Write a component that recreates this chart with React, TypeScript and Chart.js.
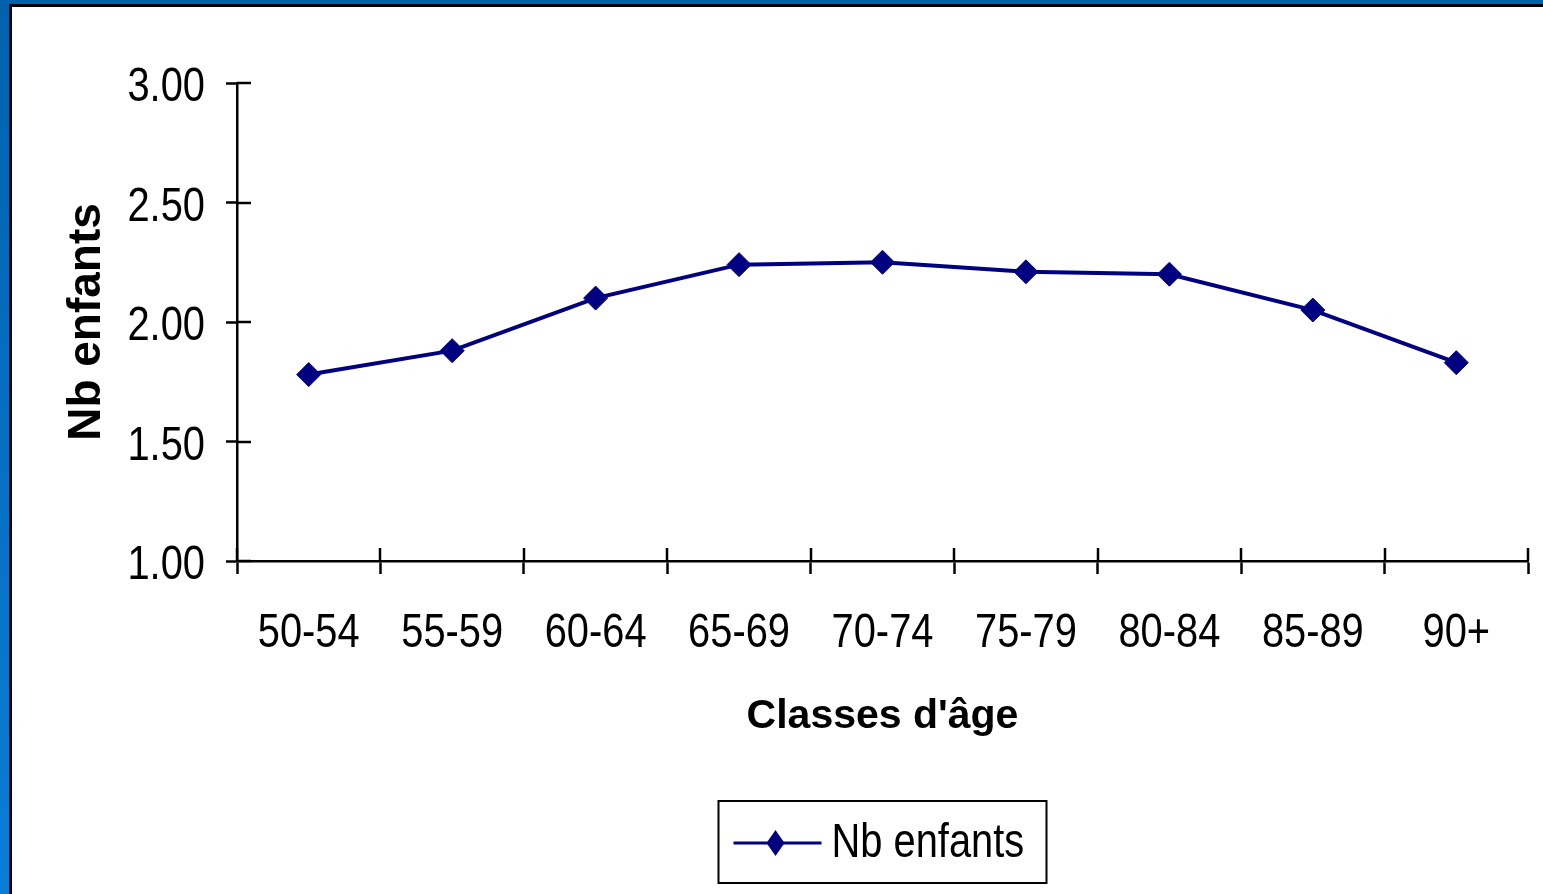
import React, { useEffect, useRef } from 'react';
import { Chart, registerables } from 'chart.js';

Chart.register(...registerables);

const categories = ['50-54', '55-59', '60-64', '65-69', '70-74', '75-79', '80-84', '85-89', '90+'];
const nbEnfants = [1.78, 1.88, 2.1, 2.24, 2.25, 2.21, 2.2, 2.05, 1.83];
const yMin = 1.0;
const yMax = 3.0;
const yStep = 0.5;
const seriesLabel = 'Nb enfants';
const xTitle = "Classes d'âge";
const yTitle = 'Nb enfants';

const NAVY = '#000080';
const SANS = "'Liberation Sans', Arial, sans-serif";
const NARROW_FONT = `48px ${SANS}`;
const NARROW_SCALE = 0.83;

function narrowText(ctx: any, text: string, x: number, y: number, align: CanvasTextAlign) {
  ctx.save();
  ctx.translate(x, y);
  ctx.scale(NARROW_SCALE, 1);
  ctx.font = NARROW_FONT;
  ctx.textAlign = align;
  ctx.textBaseline = 'alphabetic';
  ctx.fillStyle = '#000';
  ctx.fillText(text, 0, 0);
  ctx.restore();
}

const crossTicks = {
  id: 'crossTicks',
  beforeDatasetsDraw(chart: any) {
    const { ctx, chartArea, scales } = chart;
    const x = scales.x;
    const y = scales.y;
    ctx.save();
    ctx.strokeStyle = '#000';
    ctx.lineWidth = 2.5;
    y.ticks.forEach((_t: any, i: number) => {
      const py = Math.round(y.getPixelForTick(i));
      ctx.beginPath();
      ctx.moveTo(chartArea.left, py);
      ctx.lineTo(chartArea.left + 14, py);
      ctx.stroke();
    });
    for (let i = 0; i <= categories.length; i++) {
      const px = Math.round(x.getPixelForValue(i - 0.5));
      ctx.beginPath();
      ctx.moveTo(px, chartArea.bottom);
      ctx.lineTo(px, chartArea.bottom - 13);
      ctx.stroke();
    }
    ctx.restore();
  },
  afterDraw(chart: any) {
    const { ctx, chartArea, scales } = chart;
    const x = scales.x;
    const y = scales.y;
    y.ticks.forEach((t: any, i: number) => {
      const py = y.getPixelForTick(i);
      narrowText(ctx, Number(t.value).toFixed(2), chartArea.left - 32, py + 18, 'right');
    });
    x.ticks.forEach((_t: any, i: number) => {
      const px = x.getPixelForTick(i);
      narrowText(ctx, String(x.getLabelForValue(i)), px, chartArea.bottom + 86, 'center');
    });
  },
};

const boxLegend = {
  id: 'boxLegend',
  afterDraw(chart: any) {
    const { ctx, chartArea } = chart;
    const ds = chart.data.datasets[0];
    const w = 330;
    const h = 84;
    const cx = (chartArea.left + chartArea.right) / 2;
    const left = cx - w / 2;
    const top = 800;
    ctx.save();
    ctx.strokeStyle = '#000';
    ctx.lineWidth = 2;
    ctx.strokeRect(left + 1, top + 1, w - 2, h - 2);
    const ly = top + 43;
    ctx.strokeStyle = ds.borderColor;
    ctx.lineWidth = 3;
    ctx.beginPath();
    ctx.moveTo(left + 16, ly);
    ctx.lineTo(left + 104, ly);
    ctx.stroke();
    const dx = left + 58;
    ctx.fillStyle = ds.backgroundColor;
    ctx.beginPath();
    ctx.moveTo(dx, ly - 13);
    ctx.lineTo(dx + 9, ly);
    ctx.lineTo(dx, ly + 13);
    ctx.lineTo(dx - 9, ly);
    ctx.closePath();
    ctx.fill();
    ctx.restore();
    narrowText(ctx, ds.label, left + 114, top + 57, 'left');
  },
};

export default function App() {
  const ref = useRef<HTMLCanvasElement | null>(null);

  useEffect(() => {
    document.body.style.margin = '0';
    const canvas = ref.current;
    if (!canvas) return;
    const chart = new Chart(canvas, {
      type: 'line',
      data: {
        labels: categories,
        datasets: [
          {
            label: seriesLabel,
            data: nbEnfants,
            borderColor: NAVY,
            backgroundColor: NAVY,
            borderWidth: 4,
            pointStyle: 'rectRot',
            pointRadius: 12,
            pointBorderWidth: 1,
            pointBackgroundColor: NAVY,
            pointBorderColor: NAVY,
            tension: 0,
            fill: false,
          },
        ],
      },
      options: {
        responsive: false,
        animation: false,
        devicePixelRatio: 1,
        layout: { padding: { top: 83, right: 15, left: 0, bottom: 0 } },
        plugins: {
          legend: { display: false },
          tooltip: { enabled: false },
        },
        scales: {
          x: {
            type: 'category',
            offset: true,
            grid: {
              offset: true,
              drawOnChartArea: false,
              drawTicks: true,
              tickLength: 13,
              tickWidth: 2.5,
              tickColor: '#000',
            },
            border: { display: true, color: '#000', width: 2.5 },
            ticks: {
              color: 'rgba(0,0,0,0)',
              font: { family: SANS, size: 40 },
              padding: 28,
              maxRotation: 0,
              autoSkip: false,
            },
            title: {
              display: true,
              text: xTitle,
              color: '#000',
              font: { family: SANS, size: 41, weight: 'bold' },
              padding: { top: 0, bottom: 153 },
            },
            afterFit(scale: any) {
              scale.height = 333;
            },
          },
          y: {
            type: 'linear',
            min: yMin,
            max: yMax,
            grid: {
              drawOnChartArea: false,
              drawTicks: true,
              tickLength: 11,
              tickWidth: 2.5,
              tickColor: '#000',
            },
            border: { display: true, color: '#000', width: 2.5 },
            ticks: {
              stepSize: yStep,
              color: 'rgba(0,0,0,0)',
              font: { family: SANS, size: 40 },
              padding: 21,
              callback: (v: any) => Number(v).toFixed(2),
            },
            title: {
              display: true,
              text: yTitle,
              color: '#000',
              font: { family: SANS, size: 46, weight: 'bold' },
              padding: { top: 60, bottom: 0 },
            },
            afterFit(scale: any) {
              scale.width = 237;
            },
          },
        },
      },
      plugins: [crossTicks, boxLegend],
    } as any);
    return () => chart.destroy();
  }, []);

  return (
    <div
      style={{
        position: 'relative',
        width: 1543,
        height: 894,
        overflow: 'hidden',
        background: 'linear-gradient(to bottom, #0062ad, #0a7dd5)',
      }}
    >
      <div
        style={{
          position: 'absolute',
          left: 9,
          top: 4,
          width: 1600,
          height: 1000,
          boxSizing: 'border-box',
          border: '3px solid #000',
          background: '#fff',
        }}
      />
      <canvas ref={ref} width={1543} height={894} style={{ position: 'absolute', left: 0, top: 0 }} />
    </div>
  );
}
